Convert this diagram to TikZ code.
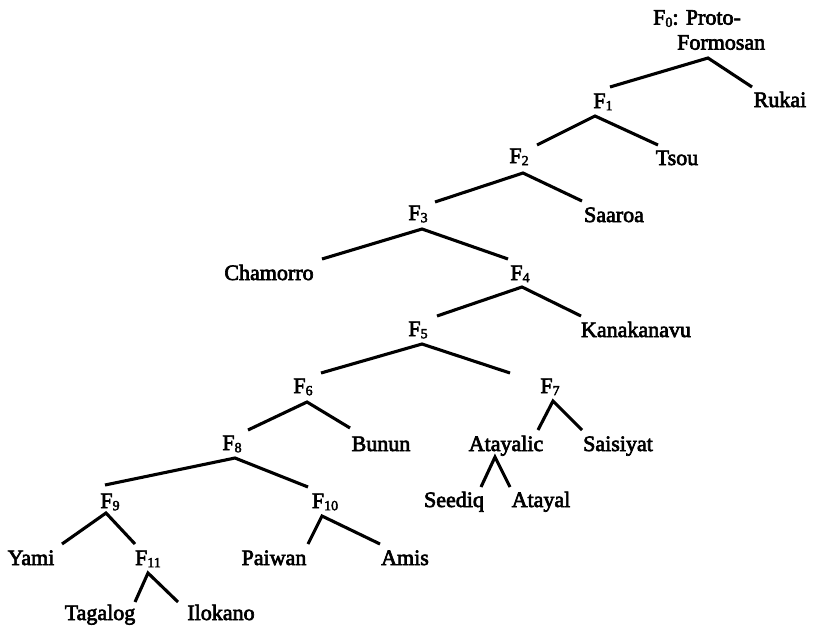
\documentclass[tikz,border=0pt]{standalone}
\usepackage{fontspec}
\setmainfont{Liberation Serif}[FakeBold=3]
\usetikzlibrary{calc}
\newcommand\Fs[1]{F\raisebox{-0.22ex}{\fontsize{14}{14}\selectfont #1}}
\tikzset{
  lbl/.style={anchor=base, inner sep=0pt, font=\fontsize{22}{25}\selectfont},
  br/.style={line width=3.1pt, line join=miter}
}
\begin{document}
\begin{tikzpicture}[x=1pt,y=-1pt]
\useasboundingbox[fill=white] (0,0) rectangle (816,627);
% nodes
\node[lbl, anchor=north west, align=left] (F0) at (653,10) {\Fs{0}: Proto-\\\hspace*{24pt}Formosan};
\node[lbl] (F1) at (603,108) {\Fs{1}};
\node[lbl] (Rukai) at (780,107) {Rukai};
\node[lbl] (F2) at (519,163) {\Fs{2}};
\node[lbl] (Tsou) at (677,165) {Tsou};
\node[lbl] (F3) at (418,220) {\Fs{3}};
\node[lbl] (Saaroa) at (614,222) {Saaroa};
\node[lbl] (Chamorro) at (269,280) {Chamorro};
\node[lbl] (F4) at (520,280) {\Fs{4}};
\node[lbl] (F5) at (418,336) {\Fs{5}};
\node[lbl] (Kanakanavu) at (636,337) {Kanakanavu};
\node[lbl] (F6) at (303,393) {\Fs{6}};
\node[lbl] (F7) at (550,393) {\Fs{7}};
\node[lbl] (F8) at (232,450) {\Fs{8}};
\node[lbl] (Bunun) at (381,451) {Bunun};
\node[lbl] (Atayalic) at (506,451) {Atayalic};
\node[lbl] (Saisiyat) at (618,451) {Saisiyat};
\node[lbl] (F9) at (110,508) {\Fs{9}};
\node[lbl] (F10) at (325,508) {\Fs{10}};
\node[lbl] (Seediq) at (454,507) {Seediq};
\node[lbl] (Atayal) at (541,507) {Atayal};
\node[lbl] (Yami) at (31,565) {Yami};
\node[lbl] (F11) at (148,565) {\Fs{11}};
\node[lbl] (Paiwan) at (274,565) {Paiwan};
\node[lbl] (Amis) at (405,565) {Amis};
\node[lbl] (Tagalog) at (100,620) {Tagalog};
\node[lbl] (Ilokano) at (221,620) {Ilokano};
% branches
\draw[br] ($(F1.base)+(7,-21)$) -- ($(F0.north west)+(55,48)$) -- ($(Rukai.base)+(-28,-20)$);
\draw[br] ($(F2.base)+(18,-18)$) -- ($(F1.base)+(-8,8)$) -- ($(Tsou.base)+(-19,-20)$);
\draw[br] ($(F3.base)+(17,-18)$) -- ($(F2.base)+(4,10)$) -- ($(Saaroa.base)+(-32,-21)$);
\draw[br] ($(Chamorro.base)+(53,-21)$) -- ($(F3.base)+(4,9)$) -- ($(F4.base)+(-12,-21)$);
\draw[br] ($(F5.base)+(19,-20)$) -- ($(F4.base)+(2,7)$) -- ($(Kanakanavu.base)+(-55,-21)$);
\draw[br] ($(F6.base)+(18,-20)$) -- ($(F5.base)+(4,8)$) -- ($(F7.base)+(-40,-20)$);
\draw[br] ($(F8.base)+(16,-20)$) -- ($(F6.base)+(4,9)$) -- ($(Bunun.base)+(-31,-23)$);
\draw[br] ($(Atayalic.base)+(32,-21)$) -- ($(F7.base)+(3,8)$) -- ($(Saisiyat.base)+(-36,-21)$);
\draw[br] ($(F9.base)+(-5,-23)$) -- ($(F8.base)+(3,8)$) -- ($(F10.base)+(-17,-21)$);
\draw[br] ($(Seediq.base)+(27,-20)$) -- ($(Atayalic.base)+(-11,6)$) -- ($(Atayal.base)+(-31,-20)$);
\draw[br] ($(Yami.base)+(31,-21)$) -- ($(F9.base)+(-4,5)$) -- ($(F11.base)+(-13,-21)$);
\draw[br] ($(Paiwan.base)+(34,-21)$) -- ($(F10.base)+(-3,8)$) -- ($(Amis.base)+(-25,-21)$);
\draw[br] ($(Tagalog.base)+(35,-18)$) -- ($(F11.base)+(0,8)$) -- ($(Ilokano.base)+(-43,-18)$);
\end{tikzpicture}
\end{document}
